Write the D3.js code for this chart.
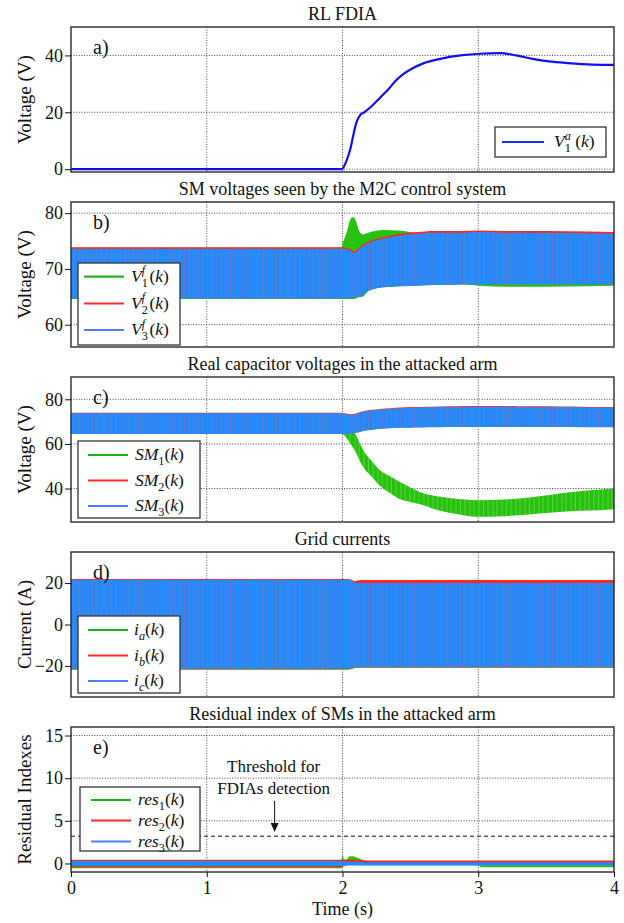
<!DOCTYPE html>
<html>
<head>
<meta charset="utf-8">
<script src="https://cdn.jsdelivr.net/npm/d3@7"></script>
<style>
  body { margin: 0; background: #fff; }
  svg text { font-family: "Liberation Serif", "Times New Roman", serif; fill: #111; }
</style>
</head>
<body>
<svg id="chart" width="624" height="923"></svg>
<script>
// ---- data (envelopes of the fast oscillations) ----
const timeTicks = [0, 1, 2, 3, 4]

// a) attack signal
const tA = [0, 1.99, 2.0, 2.03, 2.06, 2.08, 2.1, 2.13, 2.16, 2.22, 2.28, 2.34, 2.39, 2.45, 2.51, 2.6, 2.72, 2.87, 3.01, 3.16, 3.28, 3.4, 3.52, 3.66, 3.84, 4.0]
const v1a = [0, 0, 0.2, 3, 7.5, 12, 16, 19, 20, 22.4, 25.3, 28.2, 31, 33.5, 35.3, 37.3, 38.8, 40, 40.6, 40.8, 40, 38.8, 37.9, 37.3, 36.8, 36.7]

// b) SM voltages seen by control
const tB = [0, 1.99, 2.0, 2.03, 2.06, 2.08, 2.1, 2.12, 2.15, 2.18, 2.22, 2.3, 2.42, 2.55, 2.67, 2.9, 3.0, 3.2, 3.5, 3.8, 4.0]
const v1fHi = [73.8, 73.8, 74.5, 76.5, 79.0, 79.3, 78.5, 77.0, 76.2, 76.4, 76.7, 77.0, 76.9, 76.5, 76.6, 76.6, 76.6, 76.6, 76.5, 76.4, 76.4]
const v1fLo = [64.6, 64.6, 64.6, 64.6, 64.6, 64.6, 64.7, 64.9, 65.0, 65.8, 66.3, 66.7, 66.9, 67.0, 67.1, 67.2, 67.0, 66.8, 66.8, 66.9, 67.0]
const v2fHi = [73.9, 73.9, 73.9, 73.8, 73.5, 73.2, 73.3, 73.8, 74.4, 74.8, 75.2, 75.7, 76.3, 76.6, 76.8, 76.8, 76.9, 76.8, 76.8, 76.7, 76.6]
const v2fLo = [64.8, 64.8, 64.8, 64.8, 64.8, 64.9, 65.0, 65.1, 65.3, 66.0, 66.4, 66.8, 67.0, 67.1, 67.2, 67.3, 67.3, 67.3, 67.3, 67.3, 67.3]
const v3fHi = [73.6, 73.6, 73.6, 73.5, 73.2, 72.9, 73.0, 73.5, 74.1, 74.5, 74.9, 75.4, 76.0, 76.3, 76.5, 76.5, 76.6, 76.5, 76.5, 76.4, 76.3]
const v3fLo = [64.7, 64.7, 64.7, 64.7, 64.7, 64.8, 64.9, 65.0, 65.2, 65.9, 66.3, 66.7, 66.9, 67.0, 67.1, 67.2, 67.2, 67.2, 67.2, 67.2, 67.2]

// c) real capacitor voltages
const tC = [0, 1.99, 2.0, 2.03, 2.06, 2.1, 2.13, 2.16, 2.22, 2.28, 2.35, 2.42, 2.5, 2.57, 2.72, 2.85, 3.0, 3.15, 3.3, 3.45, 3.6, 3.75, 3.9, 4.0]
const sm1Hi = [73.5, 73.5, 73.3, 71.0, 68.0, 64.0, 60.0, 56.5, 52.0, 48.0, 45.5, 43.0, 40.5, 38.5, 36.3, 35.3, 34.8, 35.0, 35.5, 36.5, 37.8, 38.8, 39.6, 40.0]
const sm1Lo = [64.4, 64.4, 64.3, 62.5, 60.0, 56.0, 52.0, 49.0, 45.0, 41.0, 38.0, 35.3, 34.0, 33.0, 30.0, 28.5, 27.3, 27.5, 28.0, 28.8, 29.5, 30.0, 30.3, 30.7]
const sm2Hi = [74.0, 74.0, 73.9, 73.6, 73.3, 73.6, 74.3, 74.8, 75.3, 75.7, 76.0, 76.3, 76.5, 76.6, 76.8, 76.9, 77.0, 77.0, 76.9, 76.9, 76.8, 76.7, 76.6, 76.6]
const sm2Lo = [64.6, 64.6, 64.6, 64.6, 64.7, 65.1, 65.5, 66.0, 66.5, 66.9, 67.1, 67.3, 67.4, 67.5, 67.6, 67.7, 67.7, 67.7, 67.7, 67.7, 67.7, 67.6, 67.6, 67.6]
const sm3Hi = [73.7, 73.7, 73.6, 73.3, 73.0, 73.3, 74.0, 74.5, 75.0, 75.4, 75.7, 76.0, 76.2, 76.3, 76.5, 76.6, 76.7, 76.7, 76.6, 76.6, 76.5, 76.4, 76.3, 76.3]
const sm3Lo = [64.5, 64.5, 64.5, 64.5, 64.6, 65.0, 65.4, 65.9, 66.4, 66.8, 67.0, 67.2, 67.3, 67.4, 67.5, 67.6, 67.6, 67.6, 67.6, 67.6, 67.6, 67.5, 67.5, 67.5]

// d) grid currents
const tD = [0, 2.04, 2.07, 2.09, 2.11, 2.14, 4.0]
const iaHi = [21.5, 21.5, 21.0, 20.3, 19.9, 19.9, 19.9]
const iaLo = [-21.9, -21.9, -21.5, -21.0, -20.9, -20.9, -20.9]
const ibHi = [22.0, 22.0, 21.5, 20.9, 21.2, 21.5, 21.5]
const ibLo = [-21.6, -21.6, -21.2, -20.8, -20.7, -20.7, -20.7]
const icHi = [21.6, 21.6, 21.1, 20.4, 20.0, 20.0, 20.0]
const icLo = [-21.4, -21.4, -21.0, -20.7, -20.5, -20.5, -20.5]

// e) residual indexes
const tE = [0, 1.99, 2.0, 2.01, 2.03, 2.05, 2.08, 2.12, 2.15, 2.2, 3.0, 3.02, 4.0]
const res1Hi = [0.25, 0.25, 1.1, 0.5, 0.45, 0.85, 0.85, 0.6, 0.4, 0.25, 0.2, 0.2, 0.2]
const res1Lo = [-0.55, -0.55, -0.3, -0.2, -0.2, -0.1, -0.1, -0.1, -0.2, -0.2, -0.2, -0.45, -0.45]
const res2Hi = [0.45, 0.45, 0.45, 0.45, 0.45, 0.45, 0.45, 0.4, 0.35, 0.35, 0.35, 0.35, 0.35]
const res2Lo = [-0.45, -0.45, -0.45, -0.3, -0.2, -0.15, -0.1, -0.1, -0.1, -0.1, -0.1, -0.1, -0.1]
const res3Hi = [0.3, 0.3, 0.3, 0.25, 0.2, 0.2, 0.2, 0.2, 0.15, 0.15, 0.15, 0.15, 0.15]
const res3Lo = [-0.3, -0.3, -0.3, -0.25, -0.25, -0.25, -0.25, -0.25, -0.25, -0.25, -0.25, -0.25, -0.25]
const threshold = 3.2
const arrowAt = 1.5

// ---- layout ----
const X0 = 71, X1 = 614, TOP0 = 27, STEP = 175, PH = 145
const GREEN = '#27c20f', RED = '#ff2626', BLUE = '#1f8bff'
const LG_GREEN = '#1db31d', LG_RED = '#ff2b2b', LG_BLUE = '#4f7dff'

const svg = d3.select('#chart')
const x = d3.scaleLinear().domain([0, 4]).range([X0, X1])

const defs = svg.append('defs')
function stripes(id, base, line, w, op) {
  const p = defs.append('pattern').attr('id', id).attr('patternUnits', 'userSpaceOnUse')
    .attr('width', 23).attr('height', 40)
  p.append('rect').attr('width', 23).attr('height', 40).attr('fill', base)
  ;[0, 4.5, 9.5, 13.5, 18.5].forEach(o => {
    p.append('rect').attr('x', o).attr('width', w).attr('height', 40).attr('fill', line).attr('opacity', op)
  })
}
stripes('stripeBlue', BLUE, '#c8607c', 0.8, 0.5)
stripes('stripeGreen', GREEN, '#7ee05a', 1, 0.6)

const zip = (t, hi, lo) => t.map((v, i) => ({ t: v, hi: hi[i], lo: lo[i] }))

const panels = [
  { title: 'RL FDIA', tag: 'a)', ylab: 'Voltage (V)', dom: [-1, 50], ticks: [0, 20, 40],
    line: tA.map((v, i) => ({ t: v, v: v1a[i] })),
    legend: { box: [495, 127, 111, 30], lx: [502, 544], tx: 554, ys: [142],
      items: [{ c: '#1a2cf0', parts: [{ s: 'V', it: 1 }, { s: '1', sub: 1 }, { s: 'a', sup: 1, it: 1, back: 1 }, ' (', { s: 'k', it: 1 }, ')'] }] } },
  { title: 'SM voltages seen by the M2C control system', tag: 'b)', ylab: 'Voltage (V)', dom: [56, 82], ticks: [60, 70, 80],
    bands: [[zip(tB, v1fHi, v1fLo), GREEN], [zip(tB, v2fHi, v2fLo), RED], [zip(tB, v3fHi, v3fLo), 'url(#stripeBlue)']],
    legend: { box: [78, 263, 102, 82], lx: [84, 124], tx: 131, ys: [276.7, 303.5, 330],
      items: ['1', '2', '3'].map((n, i) => ({ c: [LG_GREEN, LG_RED, LG_BLUE][i],
        parts: [{ s: 'V', it: 1 }, { s: n, sub: 1 }, { s: 'f', sup: 1, it: 1, back: 1 }, ' (', { s: 'k', it: 1 }, ')'] })) } },
  { title: 'Real capacitor voltages in the attacked arm', tag: 'c)', ylab: 'Voltage (V)', dom: [25, 90], ticks: [40, 60, 80],
    bands: [[zip(tC, sm1Hi, sm1Lo), 'url(#stripeGreen)'], [zip(tC, sm2Hi, sm2Lo), RED], [zip(tC, sm3Hi, sm3Lo), 'url(#stripeBlue)']],
    legend: { box: [78, 441, 122, 77], lx: [88, 128], tx: 135, ys: [455, 480.5, 506],
      items: ['1', '2', '3'].map((n, i) => ({ c: [LG_GREEN, LG_RED, LG_BLUE][i],
        parts: [{ s: 'SM', it: 1 }, { s: n, sub: 1 }, '(', { s: 'k', it: 1 }, ')'] })) } },
  { title: 'Grid currents', tag: 'd)', ylab: 'Current (A)', dom: [-35, 35], ticks: [-20, 0, 20],
    bands: [[zip(tD, iaHi, iaLo), GREEN], [zip(tD, ibHi, ibLo), RED], [zip(tD, icHi, icLo), 'url(#stripeBlue)']],
    legend: { box: [78, 616, 102, 77], lx: [88, 128], tx: 134, ys: [630, 655.5, 681],
      items: ['a', 'b', 'c'].map((n, i) => ({ c: [LG_GREEN, LG_RED, LG_BLUE][i],
        parts: [{ s: 'i', it: 1 }, { s: n, sub: 1, it: 1 }, '(', { s: 'k', it: 1 }, ')'] })) } },
  { title: 'Residual index of SMs in the attacked arm', tag: 'e)', ylab: 'Residual Indexes', dom: [-1, 16], ticks: [0, 5, 10, 15],
    bands: [[zip(tE, res1Hi, res1Lo), GREEN], [zip(tE, res2Hi, res2Lo), RED], [zip(tE, res3Hi, res3Lo), BLUE]],
    legend: { box: [80, 787, 120, 64], lx: [91, 131], tx: 138, ys: [800, 820.5, 841.5],
      items: ['1', '2', '3'].map((n, i) => ({ c: [LG_GREEN, LG_RED, LG_BLUE][i],
        parts: [{ s: 'res', it: 1 }, { s: n, sub: 1 }, '(', { s: 'k', it: 1 }, ')'] })) } }
]

// rich text with sub / superscripts
function rich(sel, parts, fs) {
  let cur = 0, prevLen = 0
  parts.forEach(p => {
    const o = typeof p === 'string' ? { s: p } : p
    const target = o.sub ? fs * 0.3 : o.sup ? -fs * 0.42 : 0
    const small = o.sub || o.sup
    const ts = sel.append('tspan').text(o.s).attr('dy', target - cur)
      .style('font-size', (small ? fs * 0.7 : fs) + 'px')
      .style('font-style', o.it ? 'italic' : 'normal')
    if (o.back) ts.attr('dx', -prevLen)
    cur = target
    prevLen = ts.node().getComputedTextLength()
  })
}

panels.forEach((p, i) => {
  const top = TOP0 + i * STEP
  const y = d3.scaleLinear().domain(p.dom).range([top + PH, top])
  const g = svg.append('g')
  const clipId = 'clip' + i
  defs.append('clipPath').attr('id', clipId).append('rect')
    .attr('x', X0).attr('y', top).attr('width', X1 - X0).attr('height', PH)

  // grid
  const grid = g.append('g').attr('stroke', '#333').attr('stroke-width', 0.9).attr('stroke-dasharray', '1,1.6')
  grid.selectAll('.gy').data(p.ticks).join('line')
    .attr('x1', X0).attr('x2', X1).attr('y1', d => y(d)).attr('y2', d => y(d))
  grid.selectAll('.gx').data(timeTicks.slice(1, -1)).join('line')
    .attr('y1', top).attr('y2', top + PH).attr('x1', d => x(d)).attr('x2', d => x(d))

  const plot = g.append('g').attr('clip-path', `url(#${clipId})`)
  if (p.bands) {
    const area = d3.area().x(d => x(d.t)).y0(d => y(d.lo)).y1(d => y(d.hi)).curve(i === 4 ? d3.curveLinear : d3.curveMonotoneX)
    p.bands.forEach(([data, fill]) => {
      plot.append('path').datum(data).attr('d', area).attr('fill', fill)
    })
  }
  if (p.line) {
    const line = d3.line().x(d => x(d.t)).y(d => y(d.v)).curve(d3.curveMonotoneX)
    plot.append('path').datum(p.line).attr('d', line).attr('fill', 'none')
      .attr('stroke', '#1010ee').attr('stroke-width', 2.2)
  }
  if (i === 4) {
    plot.append('line').attr('x1', X0).attr('x2', X1).attr('y1', y(threshold)).attr('y2', y(threshold))
      .attr('stroke', '#111').attr('stroke-width', 1).attr('stroke-dasharray', '4,3')
    const ax = x(arrowAt)
    g.append('text').attr('x', ax - 1).attr('y', 772).attr('text-anchor', 'middle').style('font-size', '17px').text('Threshold for')
    g.append('text').attr('x', ax - 1).attr('y', 794).attr('text-anchor', 'middle').style('font-size', '17px').text('FDIAs detection')
    g.append('line').attr('x1', ax).attr('x2', ax).attr('y1', 801).attr('y2', 824).attr('stroke', '#111').attr('stroke-width', 1)
    g.append('path').attr('d', `M${ax - 4},${823} L${ax + 4},${823} L${ax},${832} Z`).attr('fill', '#111')
  }

  // frame
  g.append('rect').attr('x', X0).attr('y', top).attr('width', X1 - X0).attr('height', PH)
    .attr('fill', 'none').attr('stroke', '#2a2a2a').attr('stroke-width', 1.4)

  // y axis
  const yAxis = g.append('g').attr('transform', `translate(${X0},0)`)
    .call(d3.axisLeft(y).tickValues(p.ticks).tickSize(6).tickPadding(2).tickFormat(d3.format('d')))
  yAxis.select('.domain').remove()
  yAxis.selectAll('text').style('font-size', '18px').attr('fill', '#111')
  yAxis.selectAll('line').attr('stroke', '#111')

  g.append('text').attr('transform', `translate(31,${top + PH / 2}) rotate(-90)`)
    .attr('text-anchor', 'middle').style('font-size', '19px').text(p.ylab)
  g.append('text').attr('x', (X0 + X1) / 2).attr('y', top - 7).attr('text-anchor', 'middle')
    .style('font-size', '18px').text(p.title)
  g.append('text').attr('x', 93).attr('y', top + 27).style('font-size', '20px').text(p.tag)

  // legend
  const L = p.legend
  const lg = g.append('g')
  lg.append('rect').attr('x', L.box[0]).attr('y', L.box[1]).attr('width', L.box[2]).attr('height', L.box[3])
    .attr('fill', '#fff').attr('stroke', '#333').attr('stroke-width', 1.3)
  L.items.forEach((it, k) => {
    lg.append('line').attr('x1', L.lx[0]).attr('x2', L.lx[1]).attr('y1', L.ys[k]).attr('y2', L.ys[k])
      .attr('stroke', it.c).attr('stroke-width', 2.2)
    const t = lg.append('text').attr('x', L.tx).attr('y', L.ys[k] + 5)
    rich(t, it.parts, 17.5)
  })

  if (i === panels.length - 1) {
    const xAxis = g.append('g').attr('transform', `translate(0,${top + PH})`)
      .call(d3.axisBottom(x).tickValues(timeTicks).tickSize(5).tickPadding(4).tickFormat(d3.format('d')))
    xAxis.select('.domain').remove()
    xAxis.selectAll('text').style('font-size', '18px').attr('fill', '#111')
    xAxis.selectAll('line').attr('stroke', '#111')
    g.append('text').attr('x', (X0 + X1) / 2).attr('y', 915).attr('text-anchor', 'middle')
      .style('font-size', '18px').text('Time (s)')
  }
})
</script>
</body>
</html>
